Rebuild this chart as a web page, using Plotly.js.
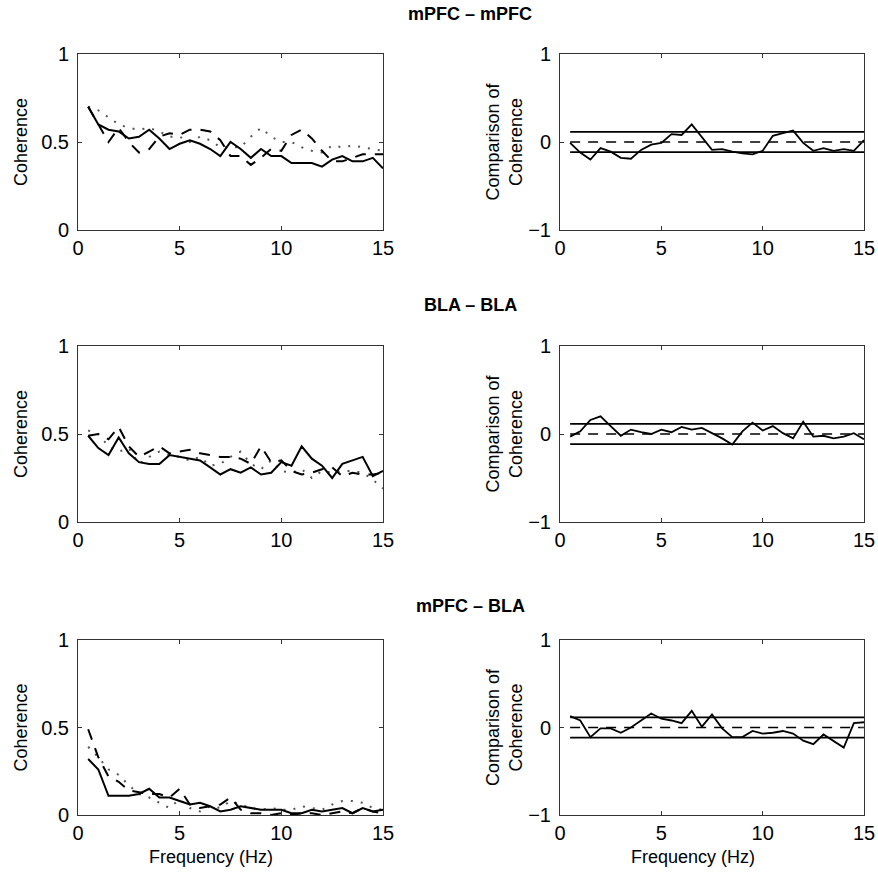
<!DOCTYPE html>
<html>
<head>
<meta charset="utf-8">
<script src="https://cdn.plot.ly/plotly-3.0.1.min.js"></script>
<style>html,body{margin:0;padding:0;background:#fff;}#chart{width:878px;height:876px;}</style>
</head>
<body>
<div id="chart"></div>
<script>
// Frequency grid (Hz)
const freq = [0.5,1,1.5,2,2.5,3,3.5,4,4.5,5,5.5,6,6.5,7,7.5,8,8.5,9,9.5,10,10.5,11,11.5,12,12.5,13,13.5,14,14.5,15];

// Panel titles
const panelTitles = ["mPFC – mPFC", "BLA – BLA", "mPFC – BLA"];

// mPFC – mPFC coherence
const mpfcSolid  = [0.70,0.60,0.57,0.56,0.52,0.53,0.57,0.52,0.46,0.49,0.51,0.49,0.46,0.42,0.50,0.46,0.41,0.46,0.42,0.42,0.38,0.38,0.38,0.36,0.40,0.42,0.39,0.39,0.41,0.35];
const mpfcDashed = [0.70,0.60,0.50,0.58,0.50,0.44,0.46,0.53,0.55,0.54,0.57,0.57,0.56,0.51,0.42,0.42,0.37,0.41,0.46,0.45,0.54,0.57,0.52,0.45,0.39,0.39,0.41,0.43,0.43,0.43];
const mpfcDotted = [0.70,0.68,0.64,0.60,0.58,0.57,0.58,0.56,0.53,0.53,0.50,0.53,0.51,0.47,0.47,0.47,0.53,0.58,0.53,0.50,0.50,0.47,0.45,0.44,0.48,0.47,0.48,0.47,0.46,0.45];
const mpfcDiff   = [-0.01,-0.12,-0.20,-0.07,-0.11,-0.18,-0.19,-0.09,-0.03,-0.01,0.09,0.08,0.20,0.05,-0.09,-0.08,-0.11,-0.13,-0.14,-0.10,0.07,0.10,0.13,-0.01,-0.10,-0.07,-0.10,-0.08,-0.10,0.02];

// BLA – BLA coherence
const blaSolid  = [0.49,0.42,0.38,0.48,0.39,0.34,0.33,0.33,0.38,0.37,0.36,0.35,0.31,0.27,0.30,0.28,0.31,0.27,0.28,0.34,0.32,0.43,0.36,0.32,0.25,0.33,0.35,0.37,0.26,0.29];
const blaDashed = [0.49,0.50,0.47,0.54,0.43,0.37,0.40,0.43,0.39,0.40,0.41,0.39,0.38,0.37,0.37,0.36,0.33,0.43,0.34,0.35,0.29,0.27,0.28,0.30,0.31,0.26,0.28,0.27,0.27,0.28];
const blaDotted = [0.52,0.50,0.43,0.40,0.42,0.33,0.37,0.40,0.38,0.37,0.35,0.37,0.32,0.33,0.37,0.40,0.33,0.30,0.35,0.29,0.28,0.30,0.25,0.29,0.28,0.29,0.29,0.28,0.24,0.19];
const blaDiff   = [-0.03,0.03,0.16,0.20,0.09,-0.02,0.05,0.02,0.00,0.05,0.02,0.08,0.05,0.07,0.01,-0.05,-0.12,0.03,0.13,0.04,0.09,0.01,-0.05,0.14,-0.03,-0.02,-0.05,-0.03,0.01,-0.06];

// mPFC – BLA coherence
const crossSolid  = [0.32,0.26,0.11,0.11,0.11,0.12,0.15,0.10,0.10,0.08,0.06,0.07,0.05,0.02,0.03,0.05,0.04,0.03,0.03,0.03,0.01,0.01,0.03,0.02,0.03,0.04,0.01,0.04,0.02,0.03];
const crossDashed = [0.49,0.33,0.22,0.19,0.14,0.13,0.12,0.12,0.10,0.15,0.06,0.04,0.05,0.06,0.10,0.03,0.01,0.01,0.00,0.01,0.00,0.01,0.01,0.00,0.01,0.02,0.01,0.04,0.02,0.01];
const crossDotted = [0.39,0.33,0.26,0.23,0.17,0.12,0.10,0.07,0.04,0.09,0.04,0.02,0.05,0.04,0.08,0.06,0.04,0.03,0.04,0.03,0.03,0.05,0.04,0.03,0.06,0.08,0.08,0.07,0.04,0.03];
const crossDiff   = [0.13,0.08,-0.11,-0.01,-0.01,-0.06,0.00,0.08,0.16,0.10,0.08,0.05,0.19,0.01,0.15,-0.01,-0.11,-0.11,-0.04,-0.07,-0.06,-0.04,-0.07,-0.15,-0.19,-0.08,-0.15,-0.23,0.05,0.06];

// Significance threshold for comparison panels
const threshold = 0.115;

const FONT = "Liberation Sans, Arial, Helvetica, sans-serif";
const rows = [
  {solid: mpfcSolid, dashed: mpfcDashed, dotted: mpfcDotted, diff: mpfcDiff},
  {solid: blaSolid, dashed: blaDashed, dotted: blaDotted, diff: blaDiff},
  {solid: crossSolid, dashed: crossDashed, dotted: crossDotted, diff: crossDiff}
];

const W = 878, H = 876;
const leftX = [78/W, 383/W], rightX = [560/W, 864/W];
const rowY = [[54,230],[346,522],[640,815]].map(r => [1 - r[1]/H, 1 - r[0]/H]);
const titleY = [14, 305, 606].map(p => 1 - p/H);

const traces = [];
const layout = {
  width: W, height: H,
  margin: {l:0, r:0, t:0, b:0},
  paper_bgcolor: "#fff", plot_bgcolor: "#fff",
  showlegend: false,
  font: {family: FONT, size: 18, color: "#000"},
  annotations: []
};

const TICKFONT = {family: FONT, size: 20, color: "#000"};
const TITLEFONT = {family: FONT, size: 18, color: "#000"};

function axisBase() {
  return {
    range: [0, 15], tickvals: [0,5,10,15], ticktext: ["0","5","10","15"],
    ticks: "inside", ticklen: 4, tickwidth: 1, tickcolor: "#333",
    showline: true, linecolor: "#333", linewidth: 1, mirror: "ticks",
    showgrid: false, zeroline: false, fixedrange: true,
    tickfont: TICKFONT
  };
}

const ones = freq.map(() => 1);
rows.forEach((row, r) => {
  const li = 2*r + 1, ri = 2*r + 2;
  const lx = "x" + li, ly = "y" + li, rx = "x" + ri, ry = "y" + ri;
  // left panel: three coherence traces
  traces.push({x: freq, y: row.dotted, xaxis: lx, yaxis: ly, mode: "lines", line: {color: "#555", width: 2, dash: "2px,8px"}});
  traces.push({x: freq, y: row.dashed, xaxis: lx, yaxis: ly, mode: "lines", line: {color: "#000", width: 2, dash: "11px,9px"}});
  traces.push({x: freq, y: row.solid, xaxis: lx, yaxis: ly, mode: "lines", line: {color: "#000", width: 2}});
  // right panel: thresholds and difference
  traces.push({x: freq, y: ones.map(v => v*threshold), xaxis: rx, yaxis: ry, mode: "lines", line: {color: "#000", width: 1.8}});
  traces.push({x: freq, y: ones.map(v => -v*threshold), xaxis: rx, yaxis: ry, mode: "lines", line: {color: "#000", width: 1.8}});
  traces.push({x: freq, y: ones.map(v => v*0), xaxis: rx, yaxis: ry, mode: "lines", line: {color: "#000", width: 1.5, dash: "10px,8px"}});
  traces.push({x: freq, y: row.diff, xaxis: rx, yaxis: ry, mode: "lines", line: {color: "#000", width: 1.8}});

  const xl = Object.assign(axisBase(), {domain: leftX, anchor: ly});
  const xr = Object.assign(axisBase(), {domain: rightX, anchor: ry});
  const yl = {
    domain: rowY[r], anchor: lx, range: [0, 1], tickvals: [0, 0.5, 1], ticktext: ["0","0.5","1"],
    ticks: "inside", ticklen: 4, tickwidth: 1, tickcolor: "#333",
    showline: true, linecolor: "#333", linewidth: 1, mirror: "ticks",
    showgrid: false, zeroline: false, fixedrange: true,
    tickfont: TICKFONT, ticklabelstandoff: 4,
    title: {text: "Coherence", font: TITLEFONT, standoff: 8}
  };
  const yr = {
    domain: rowY[r], anchor: rx, range: [-1, 1], tickvals: [-1, 0, 1], ticktext: ["\u22121","0","1"],
    ticks: "inside", ticklen: 4, tickwidth: 1, tickcolor: "#333",
    showline: true, linecolor: "#333", linewidth: 1, mirror: "ticks",
    showgrid: false, zeroline: false, fixedrange: true,
    tickfont: TICKFONT, ticklabelstandoff: 4,
    title: {text: "Comparison of<br>Coherence", font: TITLEFONT, standoff: 0}
  };
  layout["xaxis" + li] = xl; layout["xaxis" + ri] = xr;
  layout["yaxis" + li] = yl; layout["yaxis" + ri] = yr;

  layout.annotations.push({
    text: "<b>" + panelTitles[r] + "</b>", xref: "paper", yref: "paper",
    x: 470/W, y: titleY[r], xanchor: "center", yanchor: "middle", showarrow: false,
    font: {family: FONT, size: 18, color: "#000"}
  });
});

// x-axis titles for bottom row
[211, 693].forEach(px => {
  layout.annotations.push({
    text: "Frequency (Hz)", xref: "paper", yref: "paper",
    x: px/W, y: 1 - 857/H, xanchor: "center", yanchor: "middle", showarrow: false,
    font: TITLEFONT
  });
});

Plotly.newPlot("chart", traces, layout, {staticPlot: true, displayModeBar: false});
</script>
</body>
</html>
